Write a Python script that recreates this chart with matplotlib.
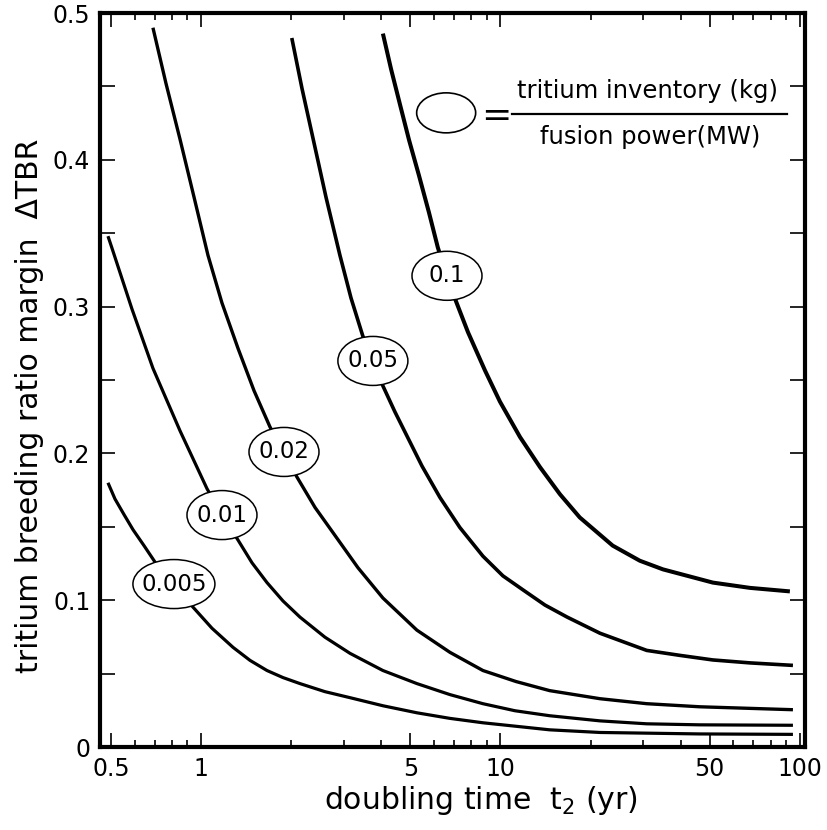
import matplotlib

matplotlib.use("Agg")
import matplotlib.pyplot as plt
import matplotlib.transforms as mtransforms
from matplotlib.patches import Ellipse
from matplotlib.ticker import FixedLocator, FixedFormatter

DPI = 100

# inventory / fusion power ratio (kg/MW) -> (doubling time yr, delta TBR)
t_010 = [4.05, 4.31, 4.62, 4.95, 5.34, 5.77, 6.18, 6.63, 7.10, 7.79, 8.88, 9.96, 11.62,
         13.55, 15.8, 18.4, 23.7, 29.2, 34.9, 51.2, 68.1, 92.6]
d_010 = [0.486, 0.462, 0.4376, 0.4136, 0.3896, 0.3642, 0.3402, 0.321, 0.3038, 0.2826,
         0.2565, 0.2353, 0.2112, 0.1907, 0.1722, 0.1564, 0.1372, 0.1269, 0.121, 0.112,
         0.1084, 0.106]

t_005 = [2.01, 2.174, 2.37, 2.615, 2.91, 3.169, 3.47, 3.75, 4.05, 4.44, 4.87, 5.47, 6.28,
         7.32, 8.74, 10.19, 11.9, 14.08, 16.7, 21.5, 30.8, 39.8, 51.2, 68.1, 94.8]
d_005 = [0.483, 0.4486, 0.414, 0.3745, 0.335, 0.3059, 0.280, 0.263, 0.246, 0.2284, 0.212,
         0.1914, 0.170, 0.1495, 0.130, 0.1166, 0.107, 0.0967, 0.0885, 0.0775, 0.0658,
         0.0624, 0.0593, 0.0573, 0.0556]

t_002 = [0.691, 0.764, 0.851, 0.948, 1.055, 1.175, 1.329, 1.503, 1.70, 1.893, 2.09, 2.403,
         2.76, 3.344, 4.05, 5.26, 6.78, 8.74, 11.27, 14.6, 21.5, 30.8, 46.3, 94.8]
d_002 = [0.490, 0.452, 0.414, 0.3745, 0.335, 0.3025, 0.2716, 0.2428, 0.218, 0.201, 0.184,
         0.1632, 0.146, 0.1221, 0.1015, 0.0796, 0.0645, 0.0521, 0.0446, 0.0384, 0.0329,
         0.0295, 0.0274, 0.0254]

t_001 = [0.489, 0.504, 0.588, 0.691, 0.851, 1.047, 1.175, 1.329, 1.480, 1.661, 1.878, 2.14,
         2.594, 3.145, 4.05, 5.26, 6.78, 8.74, 11.18, 14.6, 21.5, 30.8, 46.3, 94.8]
d_001 = [0.348, 0.340, 0.2984, 0.258, 0.2154, 0.176, 0.158, 0.141, 0.1255, 0.112, 0.0995,
         0.0885, 0.0748, 0.0638, 0.0521, 0.0432, 0.0357, 0.0295, 0.0247, 0.0213, 0.0178,
         0.0158, 0.0151, 0.0148]

t_0005 = [0.489, 0.516, 0.553, 0.593, 0.645, 0.702, 0.812, 0.940, 1.088, 1.279, 1.458, 1.661,
          1.878, 2.14, 2.594, 3.145, 4.05, 5.26, 6.78, 8.74, 14.6, 21.5, 46.3, 94.8]
d_0005 = [0.180, 0.169, 0.1584, 0.148, 0.1372, 0.126, 0.111, 0.0953, 0.0809, 0.0679, 0.0590,
          0.0521, 0.0473, 0.0432, 0.0377, 0.0336, 0.0281, 0.0233, 0.0195, 0.0165, 0.0117,
          0.0099, 0.0089, 0.0086]

# label text, series, index of the point the oval sits on, line width
curves = [
    ("0.1", t_010, d_010, 7, 2.9),
    ("0.05", t_005, d_005, 7, 2.6),
    ("0.02", t_002, d_002, 9, 2.4),
    ("0.01", t_001, d_001, 6, 2.3),
    ("0.005", t_0005, d_0005, 6, 2.3),
]

x_major = [0.5, 1, 5, 10, 50, 100]
x_major_labels = ["0.5", "1", "5", "10", "50", "100"]
x_minor = [0.6, 0.7, 0.8, 0.9, 2, 3, 4, 6, 7, 8, 9, 20, 30, 40, 60, 70, 80, 90]
y_major = [0, 0.1, 0.2, 0.3, 0.4, 0.5]
y_major_labels = ["0", "0.1", "0.2", "0.3", "0.4", "0.5"]
y_minor = [0.05, 0.15, 0.25, 0.35, 0.45]

plt.rcParams["font.family"] = ["DejaVu Sans"]

fig = plt.figure(figsize=(8.28, 8.30), dpi=DPI)
ax = fig.add_axes([0.1208, 0.1, 0.8514, 0.8843])


def oval_at(ax, x, y, w_px, h_px, trans_base, lw=1.1):
    trans = ax.figure.dpi_scale_trans + mtransforms.ScaledTranslation(x, y, trans_base)
    e = Ellipse((0, 0), w_px / DPI, h_px / DPI, transform=trans,
                facecolor="white", edgecolor="black", lw=lw, zorder=4, clip_on=False)
    ax.add_patch(e)


for label, ts, ds, k, lw in curves:
    ax.plot(ts, ds, color="black", lw=lw, solid_capstyle="butt",
            solid_joinstyle="round", zorder=2)
    w = 82 if label == "0.005" else 70
    oval_at(ax, ts[k], ds[k], w, 49, ax.transData)
    ax.text(ts[k], ds[k], label, ha="center", va="center", fontsize=16.5, zorder=5)

ax.set_xscale("log")
ax.set_xlim(0.46, 104)
ax.set_ylim(0, 0.5)

ax.xaxis.set_major_locator(FixedLocator(x_major))
ax.xaxis.set_major_formatter(FixedFormatter(x_major_labels))
ax.xaxis.set_minor_locator(FixedLocator(x_minor))
ax.xaxis.set_minor_formatter(FixedFormatter([""] * len(x_minor)))
ax.yaxis.set_major_locator(FixedLocator(y_major))
ax.yaxis.set_major_formatter(FixedFormatter(y_major_labels))
ax.yaxis.set_minor_locator(FixedLocator(y_minor))

ax.tick_params(which="both", direction="in", top=True, right=True, width=1.2,
               labelsize=17, pad=7)
ax.tick_params(axis="x", which="major", length=10)
ax.tick_params(axis="x", which="minor", length=5)
ax.tick_params(axis="y", which="both", length=11)

for sp in ax.spines.values():
    sp.set_linewidth(3)

ax.set_xlabel("doubling time  t$_2$ (yr)", fontsize=21.5)
ax.set_ylabel("tritium breeding ratio margin  \u0394TBR", fontsize=21.5)
ax.xaxis.set_label_coords(0.540, -0.05)
ax.yaxis.set_label_coords(-0.08, 0.465)

# key: oval = inventory / fusion power
oval_at(ax, 0.491, 0.864, 59, 40, ax.transAxes, lw=1.2)
ax.text(0.562, 0.860, "=", transform=ax.transAxes, ha="center", va="center", fontsize=26)
ax.plot([0.584, 0.974], [0.862, 0.862], transform=ax.transAxes, color="black", lw=1.6,
        clip_on=False)
ax.text(0.777, 0.877, "tritium inventory (kg)", transform=ax.transAxes,
        ha="center", va="bottom", fontsize=17.5)
ax.text(0.781, 0.847, "fusion power(MW)", transform=ax.transAxes,
        ha="center", va="top", fontsize=17.5)

fig.savefig("out.png", dpi=DPI)
plt.close(fig)
